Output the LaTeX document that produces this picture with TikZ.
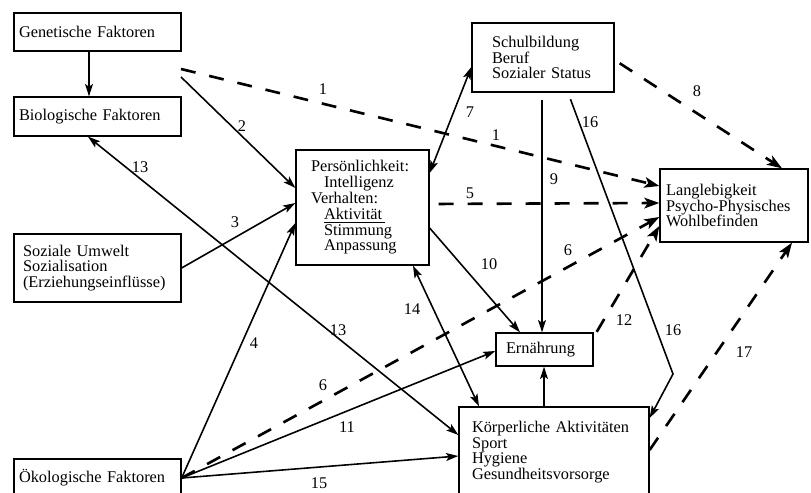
\documentclass[tikz,border=0pt]{standalone}
\usepackage{fontspec}
\setmainfont{Liberation Serif}
\usetikzlibrary{arrows.meta}

\begin{document}
\begin{tikzpicture}[x=0.02cm, y=-0.02cm,
  font=\fontsize{9.3}{9}\selectfont,
  box/.style={draw, line width=0.75pt, align=left, inner ysep=0pt},
  lbl/.style={inner sep=0.5pt},
  conn/.style={line width=0.9pt, -{Stealth[length=7pt,width=4.5pt,inset=1.5pt]}},
  both/.style={line width=0.9pt, {Stealth[length=7pt,width=4.5pt,inset=1.5pt]}-{Stealth[length=7pt,width=4.5pt,inset=1.5pt]}},
  dconn/.style={line width=1.5pt, dash pattern=on 8.5pt off 8pt, -{Stealth[length=8.5pt,width=6pt,inset=2pt]}}]

\useasboundingbox (0,0) rectangle (811,493);

% factors on the left
\node[box, text width=3.14cm, inner xsep=0.1cm, minimum height=0.76cm] (gen) at (97.5,32) {Genetische Faktoren};
\node[box, text width=3.14cm, inner xsep=0.1cm, minimum height=0.78cm] (bio) at (97.5,116.5) {Biologische Faktoren};
\node[box, text width=2.98cm, inner xsep=0.18cm, minimum height=1.36cm] (soz) at (97.5,268) {Soziale Umwelt\\Sozialisation\\(Erziehungseinflüsse)};
\node[box, text width=3.14cm, inner xsep=0.1cm, minimum height=0.76cm] (oeko) at (97.5,478) {Ökologische Faktoren};

% middle and right
\node[box, text width=2.04cm, inner xsep=0.4cm, minimum height=1.38cm] (schul) at (543,57.5) {Schulbildung\\Beruf\\Sozialer Status};
\node[box, text width=2.06cm, inner xsep=0.3cm, minimum height=2.3cm] (pers) at (362.5,207.5)
{Persönlichkeit:\\\hspace*{0.26cm}Intelligenz\\Verhalten:\\\hspace*{0.26cm}\underline{Aktivität\,}\\\hspace*{0.26cm}Stimmung\\\hspace*{0.26cm}Anpassung};
\node[box, text width=2.72cm, inner xsep=0.12cm, minimum height=1.46cm] (lang) at (734,205.5) {Langlebigkeit\\Psycho-Physisches\\Wohlbefinden};
\node[box, text width=1.54cm, inner xsep=0.2cm, minimum height=0.66cm] (ern) at (544.5,349.5) {Ernährung};
\node[box, text width=3.28cm, inner xsep=0.26cm, minimum height=1.8cm] (koerp) at (554,452) {Körperliche Aktivitäten\\Sport\\Hygiene\\Gesundheitsvorsorge};

\coordinate (gb1) at (181,69);
\coordinate (gb2) at (181,77);
\coordinate (knick) at (673,374);

% solid arrows
\draw[conn] (gen.south -| 89,0) -- (bio.north -| 89,0);
\draw[conn] (gb2) -- (pers.west |- 0,188);
\draw[conn] (soz.east |- 0,268) -- (pers.west |- 0,203);
\draw[conn] (oeko.east) -- (pers.west |- 0,223);
\draw[conn] (oeko.east) -- (ern.west |- 0,351);
\draw[conn] (oeko.east) -- (koerp.west |- 0,456);
\draw[both] (bio.south -| 88,0) -- (koerp.west |- 0,435);
\draw[both] (pers.east |- 0,173) -- (schul.west |- 0,67);
\draw[conn] (pers.east |- 0,228) -- (ern.north -| 520,0);
\draw[both] (pers.south -| 413,0) -- (koerp.north -| 479,0);
\draw[conn, shorten <=0.14cm] (schul.south -| 542,0) -- (ern.north -| 542,0);
\draw[conn, shorten <=0.14cm] (schul.south -| 568,0) -- (knick) -- (koerp.east |- 0,418);
\draw[conn] (koerp.north -| 544,0) -- (ern.south -| 544,0);

% dashed arrows
\draw[dconn] (gb1) -- (lang.west |- 0,186);
\draw[dconn, shorten <=0.18cm] (pers.east |- 0,204) -- (lang.west |- 0,203);
\draw[dconn] (oeko.east) -- (lang.west |- 0,217);
\draw[dconn, shorten <=0.12cm] (schul.east |- 0,60) -- (lang.north -| 782,0);
\draw[dconn, shorten <=0.12cm] (ern.east |- 0,337) -- (lang.west |- 0,226);
\draw[dconn] (koerp.east |- 0,450) -- (lang.south -| 792,0);

% labels
\node[lbl] (n1a) at (323,89) {1};
\node[lbl] (n1b) at (496,135) {1};
\node[lbl] (n2) at (242,126) {2};
\node[lbl] (n3) at (235,222) {3};
\node[lbl] (n4) at (254,343) {4};
\node[lbl] (n5) at (470,193) {5};
\node[lbl] (n6a) at (323,385) {6};
\node[lbl] (n6b) at (568,250) {6};
\node[lbl] (n7) at (470,112) {7};
\node[lbl] (n8) at (697,91) {8};
\node[lbl] (n9) at (554,179) {9};
\node[lbl] (n10) at (489,264) {10};
\node[lbl] (n11) at (347,427) {11};
\node[lbl] (n12) at (624,320) {12};
\node[lbl] (n13a) at (140,167) {13};
\node[lbl] (n13b) at (338,330) {13};
\node[lbl] (n14) at (412,309) {14};
\node[lbl] (n15) at (319,483) {15};
\node[lbl] (n16a) at (590,122) {16};
\node[lbl] (n16b) at (673,330) {16};
\node[lbl] (n17) at (744,352) {17};

\end{tikzpicture}
\end{document}
